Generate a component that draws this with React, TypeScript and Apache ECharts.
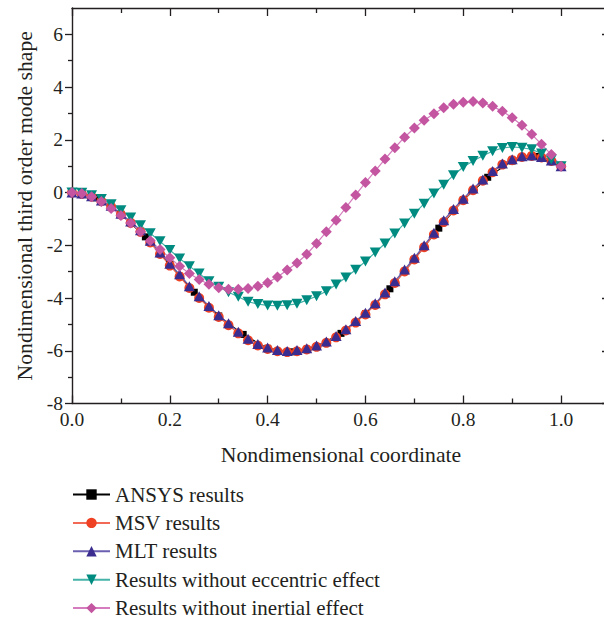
import React, { useEffect, useRef } from "react";
import * as echarts from "echarts";

const xFine = [
  0, 0.02, 0.04, 0.06, 0.08, 0.1, 0.12, 0.14, 0.16, 0.18, 0.2, 0.22, 0.24, 0.26, 0.28, 0.3, 0.32, 0.34,
  0.36, 0.38, 0.4, 0.42, 0.44, 0.46, 0.48, 0.5, 0.52, 0.54, 0.56, 0.58, 0.6, 0.62, 0.64, 0.66, 0.68,
  0.7, 0.72, 0.74, 0.76, 0.78, 0.8, 0.82, 0.84, 0.86, 0.88, 0.9, 0.92, 0.94, 0.96, 0.98, 1.0,
];
const xCoarse = [
  0, 0.05, 0.1, 0.15, 0.2, 0.25, 0.3, 0.35, 0.4, 0.45, 0.5, 0.55, 0.6, 0.65, 0.7, 0.75, 0.8, 0.85, 0.9,
  0.95, 1.0,
];

const ansys = [
  0, -0.2, -0.82, -1.68, -2.73, -3.78, -4.68, -5.38, -5.91, -6.04, -5.84, -5.34, -4.6, -3.65, -2.53,
  -1.35, -0.28, 0.58, 1.2, 1.37, 1.0,
];
const msv = [
  0, -0.05, -0.16, -0.33, -0.54, -0.84, -1.15, -1.49, -1.89, -2.33, -2.77, -3.18, -3.62, -4.0, -4.37,
  -4.72, -5.03, -5.34, -5.6, -5.8, -5.93, -6.02, -6.05, -6.02, -5.95, -5.85, -5.7, -5.49, -5.23, -4.93,
  -4.62, -4.26, -3.86, -3.43, -2.99, -2.54, -2.07, -1.59, -1.12, -0.68, -0.29, 0.09, 0.45, 0.77, 1.06,
  1.23, 1.35, 1.39, 1.33, 1.2, 1.0,
];
const mlt = [
  0, -0.04, -0.14, -0.3, -0.5, -0.8, -1.1, -1.43, -1.83, -2.27, -2.7, -3.1, -3.55, -3.93, -4.3, -4.65,
  -4.96, -5.28, -5.54, -5.74, -5.88, -5.97, -6.01, -5.97, -5.9, -5.8, -5.65, -5.44, -5.18, -4.87, -4.56,
  -4.2, -3.79, -3.36, -2.92, -2.47, -2.0, -1.52, -1.05, -0.62, -0.23, 0.15, 0.5, 0.82, 1.1, 1.26, 1.38,
  1.41, 1.35, 1.22, 1.0,
];
const noEccentric = [
  0, -0.01, -0.1, -0.24, -0.44, -0.67, -0.95, -1.24, -1.54, -1.85, -2.18, -2.5, -2.79, -3.07, -3.36,
  -3.57, -3.78, -3.95, -4.14, -4.23, -4.28, -4.29, -4.27, -4.22, -4.08, -3.93, -3.74, -3.49, -3.22,
  -2.93, -2.61, -2.27, -1.93, -1.55, -1.17, -0.8, -0.42, -0.04, 0.3, 0.66, 0.97, 1.2, 1.4, 1.57, 1.69,
  1.73, 1.7, 1.64, 1.48, 1.25, 1.0,
];
const noInertial = [
  0, -0.04, -0.16, -0.34, -0.6, -0.87, -1.15, -1.49, -1.83, -2.16, -2.47, -2.79, -3.07, -3.3, -3.48,
  -3.61, -3.67, -3.67, -3.64, -3.55, -3.42, -3.2, -2.94, -2.67, -2.34, -1.93, -1.49, -1.05, -0.57,
  -0.09, 0.38, 0.82, 1.27, 1.7, 2.1, 2.45, 2.74, 2.99, 3.22, 3.35, 3.43, 3.45, 3.4, 3.27, 3.08, 2.84,
  2.55, 2.21, 1.83, 1.44, 1.0,
];

const xMajorTicks = [0, 0.2, 0.4, 0.6, 0.8, 1.0];
const xMinorTicks = [0.1, 0.3, 0.5, 0.7, 0.9];
const yMajorTicks = [-8, -6, -4, -2, 0, 2, 4, 6];
const yMinorTicks = [-7, -5, -3, -1, 1, 3, 5];
const legendNames = [
  "ANSYS results",
  "MSV results",
  "MLT results",
  "Results without eccentric effect",
  "Results without inertial effect",
];

const FONT = "'Liberation Serif', 'Times New Roman', serif";
const INK = "#231f20";

const pair = (xs: number[], ys: number[]) => xs.map((x, i) => [x, ys[i]]);

export default function App() {
  const ref = useRef<HTMLDivElement>(null);
  useEffect(() => {
    const chart = echarts.init(ref.current!, null, { renderer: "svg" });
    const axisLine = { show: true, onZero: false, lineStyle: { color: INK, width: 1.4 } };
    const noLine = { show: false, onZero: false };
    const base = { type: "value" as const, min: 0, max: 1.1, splitLine: { show: false } };
    const ybase = { type: "value" as const, min: -8, max: 7, splitLine: { show: false } };
    const tickStyle = { color: INK, width: 1.3 };
    const option: any = {
      animation: false,
      backgroundColor: "#ffffff",
      grid: { left: 72, top: 8, width: 538, height: 395.5, containLabel: false, outerBoundsMode: "none" },
      xAxis: [
        {
          ...base,
          position: "bottom",
          axisLine,
          axisTick: { show: true, inside: true, length: 8, customValues: xMajorTicks, lineStyle: tickStyle },
          axisLabel: {
            show: true,
            customValues: xMajorTicks,
            formatter: (v: number) => v.toFixed(1),
            color: INK,
            fontFamily: FONT,
            fontSize: 19.5,
            margin: 6,
          },
          name: "Nondimensional coordinate",
          nameLocation: "middle",
          nameGap: 40,
          nameTextStyle: { color: INK, fontFamily: FONT, fontSize: 21.7 },
        },
        {
          ...base,
          position: "bottom",
          axisLine: noLine,
          axisTick: { show: true, inside: true, length: 5, customValues: xMinorTicks, lineStyle: tickStyle },
          axisLabel: { show: false },
        },
        {
          ...base,
          position: "top",
          axisLine,
          axisTick: { show: true, inside: true, length: 8, customValues: xMajorTicks, lineStyle: tickStyle },
          axisLabel: { show: false },
        },
        {
          ...base,
          position: "top",
          axisLine: noLine,
          axisTick: { show: true, inside: true, length: 5, customValues: xMinorTicks, lineStyle: tickStyle },
          axisLabel: { show: false },
        },
      ],
      yAxis: [
        {
          ...ybase,
          position: "left",
          axisLine,
          axisTick: { show: true, inside: false, length: 7, customValues: yMajorTicks, lineStyle: tickStyle },
          axisLabel: {
            show: true,
            customValues: yMajorTicks,
            color: INK,
            fontFamily: FONT,
            fontSize: 19.5,
            margin: 9,
          },
          name: "Nondimensional third order mode shape",
          nameLocation: "middle",
          nameGap: 32,
          nameTextStyle: { color: INK, fontFamily: FONT, fontSize: 21.7 },
        },
        {
          ...ybase,
          position: "left",
          axisLine: noLine,
          axisTick: { show: true, inside: false, length: 4, customValues: yMinorTicks, lineStyle: tickStyle },
          axisLabel: { show: false },
        },
        {
          ...ybase,
          position: "right",
          axisLine,
          axisTick: { show: true, inside: true, length: 8, customValues: yMajorTicks, lineStyle: tickStyle },
          axisLabel: { show: false },
        },
        {
          ...ybase,
          position: "right",
          axisLine: noLine,
          axisTick: { show: true, inside: true, length: 5, customValues: yMinorTicks, lineStyle: tickStyle },
          axisLabel: { show: false },
        },
      ],
      legend: {
        orient: "vertical",
        left: 72,
        top: 484,
        padding: 0,
        itemWidth: 37,
        itemHeight: 13,
        itemGap: 7.4,
        textStyle: { color: INK, fontFamily: FONT, fontSize: 21 },
        data: legendNames,
      },
      series: [
        {
          name: legendNames[0],
          type: "line",
          data: pair(xCoarse, ansys),
          symbol: "rect",
          symbolSize: 7,
          itemStyle: { color: "#000000" },
          lineStyle: { color: "#000000", width: 1.2 },
        },
        {
          name: legendNames[1],
          type: "line",
          data: pair(xFine, msv),
          symbol: "circle",
          symbolSize: 10,
          itemStyle: { color: "#ef4123" },
          lineStyle: { color: "#f26a55", width: 1.2 },
        },
        {
          name: legendNames[2],
          type: "line",
          data: pair(xFine, mlt),
          symbol: "triangle",
          symbolSize: [11, 10],
          itemStyle: { color: "#3a2d8f" },
          lineStyle: { color: "#6a5fb0", width: 1.2 },
        },
        {
          name: legendNames[3],
          type: "line",
          data: pair(xFine, noEccentric),
          symbol: "triangle",
          symbolRotate: 180,
          symbolSize: [11, 10],
          itemStyle: { color: "#008b80" },
          lineStyle: { color: "#45b3a8", width: 1.2 },
        },
        {
          name: legendNames[4],
          type: "line",
          data: pair(xFine, noInertial),
          symbol: "diamond",
          symbolSize: 11,
          itemStyle: { color: "#c455a0" },
          lineStyle: { color: "#d47cbd", width: 1.2 },
        },
      ],
    };
    chart.setOption(option);
    return () => chart.dispose();
  }, []);
  return (
    <div
      ref={ref}
      style={{ position: "absolute", left: 0, top: 0, width: 604, height: 626, background: "#fff" }}
    />
  );
}
